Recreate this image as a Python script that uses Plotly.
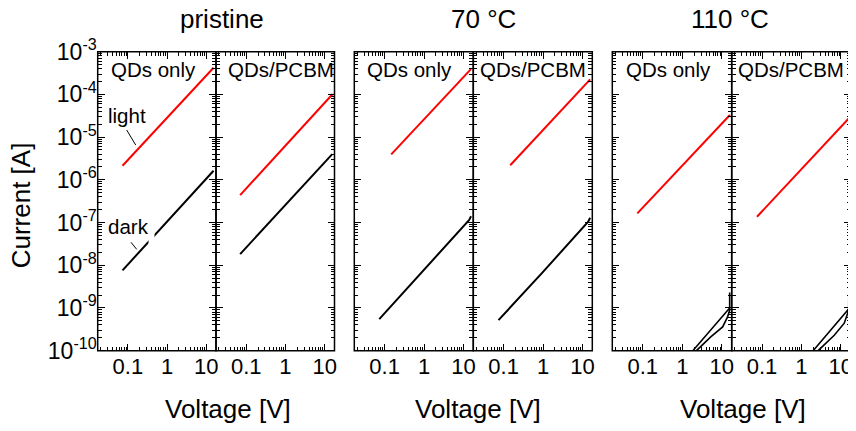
import plotly.graph_objects as go

# ---------------- data ----------------
panel_labels = ["QDs only", "QDs/PCBM", "QDs only", "QDs/PCBM", "QDs only", "QDs/PCBM"]
group_titles = ["pristine", "70 °C", "110 °C"]

light_V = [
    [0.073, 1.0, 15.4],
    [0.070, 1.0, 16.0],
    [0.147, 1.0, 15.5],
    [0.147, 1.0, 15.7],
    [0.073, 1.0, 16.0],
    [0.0745, 1.0, 16.0],
]
light_I = [
    [2.14e-6, 2.86e-5, 4.2e-4],
    [4.4e-7, 6.3e-6, 1.02e-4],
    [3.95e-6, 2.6e-5, 3.9e-4],
    [2.2e-6, 1.48e-5, 2.25e-4],
    [1.64e-7, 2.1e-6, 3.3e-5],
    [1.37e-7, 1.78e-6, 2.75e-5],
]
dark_V = [
    [0.073, 1.0, 15.4],
    [0.070, 1.0, 15.6],
    [0.073, 1.0, 14.0, 15.6],
    [0.074, 1.0, 14.0, 15.7],
    [1.85, 15.5, 15.8, 15.8, 15.8, 14.0, 10.5, 5.25, 2.28],
    [1.98, 15.6, 15.9, 15.9, 15.8, 12.2, 6.8, 2.65],
]
dark_I = [
    [7.6e-9, 1.05e-7, 1.63e-6],
    [1.83e-8, 2.6e-7, 4.0e-6],
    [5.5e-10, 8.0e-9, 1.15e-7, 1.4e-7],
    [5.2e-10, 7.0e-9, 1.05e-7, 1.3e-7],
    [1.0e-10, 9.8e-10, 1.0e-9, 2.3e-9, 8.9e-10, 6.2e-10, 3.6e-10, 2.1e-10, 1.0e-10],
    [1.0e-10, 9.0e-10, 9.5e-10, 2.0e-9, 8.9e-10, 4.4e-10, 2.3e-10, 1.0e-10],
]
x_tickvals = [0.1, 1, 10]
x_ticktext = ["0.1", "1", "10"]
y_tickvals = [1e-10, 1e-9, 1e-8, 1e-7, 1e-6, 1e-5, 1e-4, 1e-3]
y_ticktext = ["10<sup>-10</sup>", "10<sup>-9</sup>", "10<sup>-8</sup>", "10<sup>-7</sup>",
              "10<sup>-6</sup>", "10<sup>-5</sup>", "10<sup>-4</sup>", "10<sup>-3</sup>"]

# minor log ticks (2..9 of each decade)
x_minor = [m * 10.0 ** e for e in (-2, -1, 0, 1) for m in range(2, 10)]
y_minor = [m * 10.0 ** e for e in range(-10, -3) for m in range(2, 10)]

# ---------------- layout geometry (page pixels) ----------------
OFF = 8                      # default page margin around the plot div
W, H = 856 - OFF, 431 - OFF  # figure size
def px(xp):
    return (xp - OFF) / W
def py(yp):
    return 1 - (yp - OFF) / H

px_edges = [(97.7, 216.0), (216.0, 334.5), (354.3, 473.3), (473.3, 592.3),
            (612.3, 731.7), (731.7, 850.7)]
y_top, y_bot = 51.7, 350.7
ydom = [py(y_bot), py(y_top)]
label_offsets = [11.3, 9.7, 10.4, 5.0, 11.7, 4.6]

FONT = "Arial, Liberation Sans, Helvetica, sans-serif"
fig = go.Figure()

layout = dict(
    template="none",
    width=W, height=H, margin=dict(l=0, r=0, t=0, b=0, autoexpand=False),
    paper_bgcolor="white", plot_bgcolor="white", showlegend=False,
    font=dict(family=FONT, color="black"),
)

annotations = []
shapes = []

for i in range(6):
    n = "" if i == 0 else str(i + 1)
    xa, ya = "x" + n, "y" + n
    fig.add_trace(go.Scatter(x=dark_V[i], y=dark_I[i], mode="lines", xaxis=xa, yaxis=ya,
                             line=dict(color="black", width=1.6 if i >= 4 else 2)))
    fig.add_trace(go.Scatter(x=light_V[i], y=light_I[i], mode="lines", xaxis=xa, yaxis=ya,
                             line=dict(color="#ff0000", width=2)))
    x0, x1 = px_edges[i]
    layout["xaxis" + n] = dict(
        type="log", range=[-1.77, 1.25], domain=[px(x0), px(x1)], anchor=ya,
        tickmode="array", tickvals=x_tickvals, ticktext=x_ticktext, automargin=False,
        showgrid=False, zeroline=False,
        ticks="inside", ticklen=7, tickwidth=1, tickcolor="black",
        showline=False, mirror="ticks",
        tickfont=dict(size=22, family=FONT, color="black"),
        minor=dict(ticks="inside", ticklen=4, tickwidth=1, tickcolor="black",
                   tickmode="array", tickvals=x_minor, showgrid=False),
    )
    layout["yaxis" + n] = dict(
        type="log", range=[-10, -3], domain=ydom, anchor=xa,
        tickmode="array", tickvals=y_tickvals, ticktext=y_ticktext,
        showticklabels=(i == 0), automargin=False, showgrid=False, zeroline=False,
        ticks="inside", ticklen=7, tickwidth=1, tickcolor="black",
        showline=False, mirror="ticks",
        tickfont=dict(size=23, family=FONT, color="black"),
        minor=dict(ticks="inside", ticklen=4, tickwidth=1, tickcolor="black",
                   tickmode="array", tickvals=y_minor, showgrid=False),
    )
    # panel frame
    shapes.append(dict(type="rect", xref=xa + " domain", yref=ya + " domain", x0=0, x1=1, y0=0, y1=1,
                       line=dict(color="black", width=1.5), fillcolor="rgba(0,0,0,0)", layer="above"))
    annotations.append(dict(text=panel_labels[i], xref=xa + " domain", yref=ya + " domain",
                            x=label_offsets[i] / (x1 - x0), y=(y_bot - 69.6) / (y_bot - y_top),
                            xanchor="left", yanchor="middle", showarrow=False,
                            font=dict(size=20.5, family=FONT, color="black")))

title_x = [221.7, 483.0, 730.0]
volt_x = [228.0, 478.3, 742.5]
for k in range(3):
    annotations.append(dict(text=group_titles[k], xref="paper", yref="paper",
                            x=px(title_x[k]), y=py(19.0), xanchor="center", yanchor="middle",
                            showarrow=False, font=dict(size=26, family=FONT, color="black")))
    annotations.append(dict(text="Voltage [V]", xref="paper", yref="paper",
                            x=px(volt_x[k]), y=py(409.3), xanchor="center", yanchor="middle",
                            showarrow=False, font=dict(size=26, family=FONT, color="black")))
annotations.append(dict(text="Current [A]", xref="paper", yref="paper", x=px(21.3), y=py(205),
                        xanchor="center", yanchor="middle", textangle=-90, showarrow=False,
                        font=dict(size=26, family=FONT, color="black")))

# "light" / "dark" labels with leader lines in first panel
pw = px_edges[0][1] - px_edges[0][0]
ph = y_bot - y_top
def dx(p):
    return (p - px_edges[0][0]) / pw
def dy(p):
    return (y_bot - p) / ph

annotations.append(dict(text="light", xref="x domain", yref="y domain", x=dx(126.7), y=dy(115.4),
                        xanchor="center", yanchor="middle", showarrow=False,
                        font=dict(size=20.5, family=FONT, color="black")))
annotations.append(dict(text="dark", xref="x domain", yref="y domain", x=dx(128.0), y=dy(226.2),
                        xanchor="center", yanchor="middle", showarrow=False,
                        font=dict(size=20.5, family=FONT, color="black")))
shapes.append(dict(type="rect", xref="x domain", yref="y domain", x0=dx(148.5), x1=dx(154.5),
                   y0=dy(244), y1=dy(233), fillcolor="white", line=dict(width=0), layer="above"))
shapes.append(dict(type="line", xref="x domain", yref="y domain", x0=dx(126.7), y0=dy(130),
                   x1=dx(135.7), y1=dy(145), line=dict(color="black", width=1), layer="above"))
shapes.append(dict(type="line", xref="x domain", yref="y domain", x0=dx(131), y0=dy(242.3),
                   x1=dx(136.7), y1=dy(249.3), line=dict(color="black", width=1), layer="above"))

layout["annotations"] = annotations
layout["shapes"] = shapes
fig.update_layout(**layout)
fig.write_html("out.html")
